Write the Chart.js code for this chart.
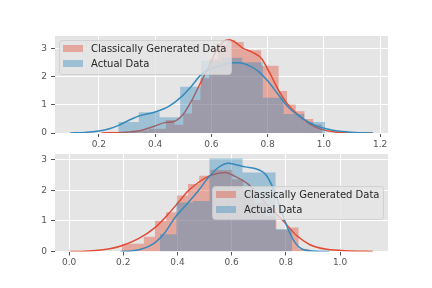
<!DOCTYPE html>
<html>
<head>
<meta charset="utf-8">
<script src="https://cdn.jsdelivr.net/npm/chart.js@4"></script>
<style>
  html, body { margin: 0; padding: 0; background: #fff; }
  #wrap { position: relative; width: 432px; height: 288px; }
  canvas { position: absolute; left: 0; }
  #top { top: 0; }
  #bottom { top: 150px; }
</style>
</head>
<body>
<div id="wrap">
  <canvas id="top" width="432" height="150" style="width:432px;height:150px"></canvas>
  <canvas id="bottom" width="432" height="138" style="width:432px;height:138px"></canvas>
</div>
<script>
// series names
const seriesNames = ['Classically Generated Data', 'Actual Data'];

// ---- top panel ----
const topRedEdges = [0.315, 0.346, 0.377, 0.407, 0.438, 0.469, 0.500, 0.531, 0.561, 0.592, 0.623, 0.654,
                     0.685, 0.715, 0.746, 0.777, 0.808, 0.839, 0.869, 0.900, 0.931, 0.962, 0.993];
const topRedHeights = [0.10, 0.10, 0.15, 0.15, 0.46, 0.29, 0.70, 1.18, 1.95, 2.65, 3.15, 3.32,
                       3.25, 2.95, 2.95, 2.40, 2.40, 1.50, 1.02, 0.78, 0.50, 0.30];
const topBlueEdges = [0.269, 0.342, 0.416, 0.489, 0.563, 0.636, 0.710, 0.783, 0.857, 0.930, 1.004];
const topBlueHeights = [0.39, 0.74, 0.56, 1.65, 2.58, 2.68, 2.52, 1.26, 0.68, 0.39];

const topRedKdeX = [0.21, 0.28, 0.34, 0.40, 0.434, 0.464, 0.50, 0.529, 0.565, 0.588, 0.618, 0.645, 0.665,
                    0.69, 0.713, 0.748, 0.778, 0.807, 0.837, 0.872, 0.92, 0.967, 1.027, 1.08, 1.174];
const topRedKdeY = [0.0, 0.02, 0.07, 0.25, 0.37, 0.40, 0.67, 1.14, 1.86, 2.30, 2.95, 3.28, 3.33,
                    3.20, 3.02, 2.87, 2.66, 2.15, 1.56, 1.02, 0.55, 0.23, 0.05, 0.01, 0.0];
const topBlueKdeX = [0.098, 0.15, 0.20, 0.24, 0.27, 0.30, 0.34, 0.40, 0.45, 0.49, 0.53, 0.565, 0.60, 0.648,
                     0.675, 0.70, 0.73, 0.766, 0.80, 0.837, 0.872, 0.92, 0.967, 1.027, 1.086, 1.174];
const topBlueKdeY = [0.0, 0.02, 0.07, 0.16, 0.27, 0.42, 0.60, 0.75, 0.96, 1.26, 1.68, 2.10, 2.30, 2.45,
                     2.51, 2.51, 2.42, 2.21, 1.86, 1.38, 0.94, 0.55, 0.28, 0.11, 0.04, 0.0];

const topXTicks = [0.2, 0.4, 0.6, 0.8, 1.0, 1.2];
const topXLabels = ['0.2', '0.4', '0.6', '0.8', '1.0', '1.2'];

// ---- bottom panel ----
const botRedEdges = [0.195, 0.235, 0.276, 0.317, 0.358, 0.398, 0.439, 0.480, 0.521, 0.561, 0.602, 0.643,
                     0.684, 0.724, 0.765, 0.806, 0.847, 0.887];
const botRedHeights = [0.25, 0.25, 0.48, 1.00, 1.28, 1.83, 2.20, 2.47, 2.67, 2.66, 2.36, 2.00,
                       1.60, 1.15, 0.70, 0.78, 0.08];
const botBlueEdges = [0.335, 0.396, 0.457, 0.518, 0.579, 0.640, 0.701, 0.762, 0.823];
const botBlueHeights = [0.56, 1.60, 1.65, 3.03, 3.03, 2.58, 2.58, 0.73];

const botRedKdeX = [0.004, 0.06, 0.108, 0.15, 0.194, 0.256, 0.317, 0.366, 0.403, 0.44, 0.477, 0.514, 0.551,
                    0.576, 0.613, 0.662, 0.70, 0.75, 0.79, 0.84, 0.889, 0.951, 1.037, 1.121];
const botRedKdeY = [0.0, 0.01, 0.04, 0.09, 0.19, 0.42, 0.78, 1.22, 1.60, 1.98, 2.25, 2.45, 2.55,
                    2.58, 2.45, 2.19, 1.82, 1.35, 1.00, 0.52, 0.22, 0.07, 0.02, 0.0];
const botBlueKdeX = [0.19, 0.23, 0.268, 0.317, 0.354, 0.391, 0.44, 0.477, 0.514, 0.551, 0.588, 0.62, 0.65,
                     0.686, 0.71, 0.729, 0.76, 0.78, 0.803, 0.834, 0.859, 0.908, 0.96];
const botBlueKdeY = [0.0, 0.02, 0.08, 0.29, 0.62, 1.11, 1.60, 1.98, 2.41, 2.74, 2.88, 2.82, 2.76,
                     2.71, 2.62, 2.47, 1.92, 1.40, 0.84, 0.29, 0.08, 0.01, 0.0];

const botXTicks = [0.0, 0.2, 0.4, 0.6, 0.8, 1.0];
const botXLabels = ['0.0', '0.2', '0.4', '0.6', '0.8', '1.0'];

const yTicks = [0, 1, 2, 3];
const yLabels = ['0', '1', '2', '3'];

// ggplot colours
const RED = '#E24A33';
const BLUE = '#348ABD';
const RED_FILL = 'rgba(226,74,51,0.4)';
const BLUE_FILL = 'rgba(52,138,189,0.4)';

// step outline of a histogram, drawn as a filled stepped line
function histPoints(edges, heights) {
  var pts = [{ x: edges[0], y: 0 }];
  for (var i = 0; i < heights.length; i++) {
    pts.push({ x: edges[i], y: heights[i] });
  }
  pts.push({ x: edges[edges.length - 1], y: 0 });
  return pts;
}

function curvePoints(xs, ys) {
  return xs.map(function (x, i) { return { x: x, y: ys[i] }; });
}

// grey panel behind the grid
const panelBg = {
  id: 'panelBg',
  beforeDraw(chart) {
    const a = chart.chartArea, ctx = chart.ctx;
    ctx.save();
    ctx.fillStyle = '#E5E5E5';
    ctx.fillRect(a.left, a.top, a.right - a.left, a.bottom - a.top);
    ctx.restore();
  }
};

// matplotlib-like legend inside the axes
const boxLegend = {
  id: 'boxLegend',
  afterDatasetsDraw(chart, args, opts) {
    const ctx = chart.ctx;
    const fills = [RED_FILL, BLUE_FILL];
    ctx.save();
    ctx.beginPath();
    ctx.roundRect(opts.x + 0.5, opts.y + 0.5, opts.w, opts.h, 3);
    ctx.fillStyle = 'rgba(229,229,229,0.8)';
    ctx.fill();
    ctx.strokeStyle = 'rgba(204,204,204,0.8)';
    ctx.lineWidth = 1;
    ctx.stroke();
    ctx.font = '10px "DejaVu Sans"';
    ctx.textBaseline = 'middle';
    seriesNames.forEach(function (name, i) {
      const cy = opts.y + 8.5 + i * 15;
      ctx.fillStyle = fills[i];
      ctx.fillRect(opts.x + 4, cy - 3.5, 20, 7);
      ctx.fillStyle = '#262626';
      ctx.fillText(name, opts.x + 32, cy + 0.5);
    });
    ctx.restore();
  }
};

function makeChart(id, o) {
  return new Chart(document.getElementById(id), {
    type: 'line',
    data: {
      datasets: [
        { label: seriesNames[0], data: histPoints(o.redEdges, o.redHeights), stepped: true, fill: 'origin',
          backgroundColor: RED_FILL, borderColor: 'transparent', borderWidth: 0, pointRadius: 0, order: 4 },
        { label: seriesNames[0], data: curvePoints(o.redKdeX, o.redKdeY), fill: false,
          borderColor: RED, borderWidth: 1.5, pointRadius: 0, cubicInterpolationMode: 'monotone', order: 3 },
        { label: seriesNames[1], data: histPoints(o.blueEdges, o.blueHeights), stepped: true, fill: 'origin',
          backgroundColor: BLUE_FILL, borderColor: 'transparent', borderWidth: 0, pointRadius: 0, order: 2 },
        { label: seriesNames[1], data: curvePoints(o.blueKdeX, o.blueKdeY), fill: false,
          borderColor: BLUE, borderWidth: 1.5, pointRadius: 0, cubicInterpolationMode: 'monotone', order: 1 }
      ]
    },
    options: {
      responsive: false,
      animation: false,
      devicePixelRatio: 1,
      layout: { padding: o.padding },
      plugins: {
        legend: { display: false },
        tooltip: { enabled: false },
        boxLegend: o.legend
      },
      scales: {
        x: {
          type: 'linear', min: o.xMin, max: o.xMax,
          afterBuildTicks: function (axis) { axis.ticks = o.xTicks.map(function (v) { return { value: v }; }); },
          afterFit: function (axis) {
            axis.height = o.xAxisH;
            axis.paddingLeft = 0; axis.paddingRight = 0;
          },
          grid: { color: '#fff', lineWidth: 1, tickColor: '#555', tickLength: 4 },
          border: { display: false },
          ticks: {
            color: '#555', font: { family: 'DejaVu Sans', size: 9 }, padding: 2,
            maxRotation: 0, autoSkip: false,
            callback: function (v, i) { return o.xLabels[i]; }
          }
        },
        y: {
          min: 0, max: o.yMax,
          afterBuildTicks: function (axis) { axis.ticks = yTicks.map(function (v) { return { value: v }; }); },
          afterFit: function (axis) {
            axis.width = 55;
            axis.paddingTop = 0; axis.paddingBottom = 0;
          },
          grid: { color: '#fff', lineWidth: 1, tickColor: '#555', tickLength: 4 },
          border: { display: false },
          ticks: {
            color: '#555', font: { family: 'DejaVu Sans', size: 9 }, padding: 4,
            autoSkip: false,
            callback: function (v, i) { return yLabels[i]; }
          }
        }
      }
    },
    plugins: [panelBg, boxLegend]
  });
}

makeChart('top', {
  redEdges: topRedEdges, redHeights: topRedHeights, blueEdges: topBlueEdges, blueHeights: topBlueHeights,
  redKdeX: topRedKdeX, redKdeY: topRedKdeY, blueKdeX: topBlueKdeX, blueKdeY: topBlueKdeY,
  xTicks: topXTicks, xLabels: topXLabels,
  xMin: 0.044, xMax: 1.228, yMax: 3.46,
  padding: { left: 0, right: 44, top: 36, bottom: 0 }, xAxisH: 17,
  legend: { x: 59, y: 40, w: 172, h: 34 }
});

makeChart('bottom', {
  redEdges: botRedEdges, redHeights: botRedHeights, blueEdges: botBlueEdges, blueHeights: botBlueHeights,
  redKdeX: botRedKdeX, redKdeY: botRedKdeY, blueKdeX: botBlueKdeX, blueKdeY: botBlueKdeY,
  xTicks: botXTicks, xLabels: botXLabels,
  xMin: -0.052, xMax: 1.177, yMax: 3.18,
  padding: { left: 0, right: 44, top: 4, bottom: 0 }, xAxisH: 36.5,
  legend: { x: 212, y: 36, w: 171, h: 33 }
});
</script>
</body>
</html>
